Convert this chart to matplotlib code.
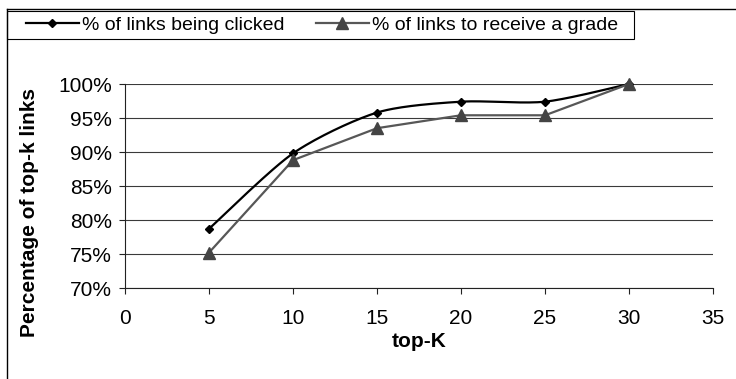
import numpy as np
import matplotlib
matplotlib.use("Agg")
import matplotlib.pyplot as plt
from matplotlib.lines import Line2D
from matplotlib.patches import Rectangle
from matplotlib.ticker import FuncFormatter

plt.rcParams['font.family'] = ['Liberation Sans', 'DejaVu Sans']

# data
top_k = [5, 10, 15, 20, 25, 30]
pct_clicked = [78.7, 89.8, 95.8, 97.4, 97.4, 100.0]
pct_graded = [75.2, 88.8, 93.5, 95.4, 95.4, 100.0]
label_clicked = "% of links being clicked"
label_graded = "% of links to receive a grade"
x_ticks = [0, 5, 10, 15, 20, 25, 30, 35]
y_ticks = [70, 75, 80, 85, 90, 95, 100]


def smooth(xs, ys, k=0.4, n=30):
    # cubic bezier smoothing through the points, like a "smoothed line"
    pts = np.column_stack([np.asarray(xs, float), np.asarray(ys, float)])
    ext = np.vstack([pts[0], pts, pts[-1]])
    out = []
    for i in range(1, len(ext) - 2):
        p0, p1, p2, p3 = ext[i - 1], ext[i], ext[i + 1], ext[i + 2]
        c1 = p1 + k * (p2 - p0) / 3.0
        c2 = p2 - k * (p3 - p1) / 3.0
        t = np.linspace(0, 1, n)[:, None]
        seg = ((1 - t) ** 3 * p1 + 3 * (1 - t) ** 2 * t * c1
               + 3 * (1 - t) * t ** 2 * c2 + t ** 3 * p2)
        out.append(seg if i == 1 else seg[1:])
    out = np.vstack(out)
    return out[:, 0], out[:, 1]


W, H = 736, 379
fig = plt.figure(figsize=(W / 100, H / 100), dpi=100)
ax = fig.add_axes([125 / W, 1 - 288 / H, 588 / W, 204 / H])

fs = 15
fs_leg = 14

for y in y_ticks:
    ax.axhline(y, color='#3a3a3a', lw=0.8, zorder=1)

sx, sy = smooth(top_k, pct_clicked)
ax.plot(sx, sy, color='black', lw=1.6, zorder=3, clip_on=False)
ax.plot(top_k, pct_clicked, ls='none', marker='D', markersize=4.4,
        color='black', zorder=3, clip_on=False)
ax.plot(top_k, pct_graded, color='#575757', lw=1.6, marker='^',
        markersize=8, markerfacecolor='#444444', markeredgecolor='#444444',
        zorder=4, clip_on=False)

ax.set_xlim(0, 35)
ax.set_ylim(70, 100)
ax.set_xticks(x_ticks)
ax.set_yticks(y_ticks)
ax.yaxis.set_major_formatter(FuncFormatter(lambda v, p: "{:.0f}%".format(v)))

for s in ['top', 'right']:
    ax.spines[s].set_visible(False)
for s in ['left', 'bottom']:
    ax.spines[s].set_color('#222222')
    ax.spines[s].set_linewidth(0.8)

ax.tick_params(axis='y', direction='out', length=4.5, width=0.8, pad=5,
               labelsize=fs, color='#222222')
ax.tick_params(axis='x', direction='out', length=4, width=0.8, pad=11,
               labelsize=fs, color='#222222')

ax.set_xlabel("top-K", fontsize=fs, fontweight='bold')
ax.xaxis.set_label_coords(0.5, -0.215)
ax.set_ylabel("Percentage of top-k links", fontsize=fs, fontweight='bold',
              va='center', ha='center')
ax.yaxis.set_label_coords(-0.163, 0.368)

# legend with its own box
handles = [
    Line2D([], [], color='black', lw=1.6, marker='D', markersize=4.4),
    Line2D([], [], color='#575757', lw=1.6, marker='^', markersize=8,
           markerfacecolor='#444444', markeredgecolor='#444444'),
]
fig.legend(handles, [label_clicked, label_graded], ncol=2, frameon=False,
           loc='center left', bbox_to_anchor=(26 / W, 1 - 25 / H),
           bbox_transform=fig.transFigure, borderpad=0, borderaxespad=0,
           handlelength=2.7, handletextpad=0.2, columnspacing=1.6,
           fontsize=fs_leg)
fig.patches.append(Rectangle((7 / W, 1 - 39 / H), (634 - 7) / W, 28 / H,
                             transform=fig.transFigure, fill=False,
                             edgecolor='black', lw=0.8))

# chart area border (cut off at right and bottom)
fig.add_artist(Line2D([7 / W, 1.0], [1 - 9 / H, 1 - 9 / H],
                      transform=fig.transFigure, color='black', lw=1.0))
fig.add_artist(Line2D([7 / W, 7 / W], [0.0, 1 - 9 / H],
                      transform=fig.transFigure, color='black', lw=1.0))

fig.savefig("out.png", dpi=100)
plt.close(fig)
